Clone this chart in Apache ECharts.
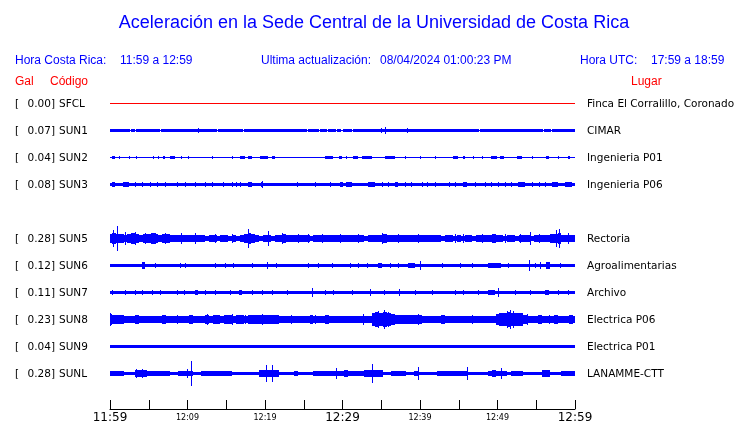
<!DOCTYPE html>
<html><head><meta charset="utf-8">
<script src="https://cdn.jsdelivr.net/npm/echarts@6.0.0/dist/echarts.min.js"></script>
<style>html,body{margin:0;padding:0;background:#fff}#c{width:740px;height:423px}</style>
</head><body><div id="c"></div>
<script>
// ---------- data ----------
const titleText = 'Aceleración en la Sede Central de la Universidad de Costa Rica';
const horaCR = '11:59 a 12:59';
const updated = '08/04/2024 01:00:23 PM';
const horaUTC = '17:59 a 18:59';
const timeLabels = ['11:59', '12:09', '12:19', '12:29', '12:39', '12:49', '12:59']; // every 10 min
const codes  = ['SFCL', 'SUN1', 'SUN2', 'SUN3', '', 'SUN5', 'SUN6', 'SUN7', 'SUN8', 'SUN9', 'SUNL'];
const places = ['Finca El Corralillo, Coronado', 'CIMAR', 'Ingenieria P01', 'Ingenieria P06', '',
                'Rectoria', 'Agroalimentarias', 'Archivo', 'Electrica P06', 'Electrica P01', 'LANAMME-CTT'];
const peakGal = [0.00, 0.07, 0.04, 0.08, null, 0.28, 0.12, 0.11, 0.23, 0.04, 0.28];
// quiet half-amplitude of each trace (Gal); null = trace described by a half-minute envelope
const baseGal = [0, 0.008, 0.008, 0.039, null, null, 0.039, 0.039, null, 0.027, null];
// half-minute envelopes (half-amplitude, Gal), t = 0, 0.5, ... 60 min
const sun5Env = [0.11,0.12,0.10,0.11,0.09,0.10,0.12,0.10,0.09,0.11,0.10,0.12,0.10,0.09,0.11,0.10,0.09,
  0.08,0.085,0.075,0.09,0.08,0.075,0.085,
  0.07,0.065,0.075,0.07,0.06,0.07,0.075,0.065,0.07,0.06,0.07,
  0.10,0.12,0.10,
  0.07,0.065,0.075,0.07,0.065,0.07,
  0.09,0.095,0.085,
  0.075,0.07,0.08,0.07,0.075,0.065,0.075,0.08,0.07,0.075,0.07,0.08,
  0.085,0.09,0.08,0.085,
  0.075,0.07,0.075,0.065,0.075,0.07,0.08,
  0.09,0.095,0.085,
  0.075,0.07,0.08,0.075,0.07,0.075,0.08,0.07,0.075,0.07,0.08,0.075,
  0.07,0.065,0.07,0.075,0.065,0.07,0.065,0.075,0.07,0.065,0.07,0.075,0.07,
  0.09,0.095,0.085,
  0.07,0.065,0.075,0.07,0.065,0.07,0.075,0.07,0.065,0.07,0.075,0.07,0.08,
  0.10,0.11,0.12,0.09,
  0.08,0.085,0.08];
const sun8Env = [0.12,0.11,0.10,0.11,
  0.08,0.085,
  0.09,0.095,0.09,0.085,
  0.08,0.075,0.08,
  0.09,0.095,0.09,0.085,
  0.08,0.085,0.08,
  0.09,0.095,0.09,0.085,0.09,
  0.095,0.09,0.10,0.095,0.09,0.10,0.095,0.09,0.10,0.095,0.09,0.10,0.095,0.105,
  0.11,0.115,0.11,0.105,0.11,
  0.08,0.085,0.08,0.09,0.08,0.085,
  0.09,0.085,0.095,0.09,0.085,0.09,0.095,0.09,0.085,
  0.085,0.08,0.09,0.085,0.08,0.09,0.085,
  0.08,0.085,
  0.15,0.17,0.16,0.17,0.15,
  0.12,0.11,0.105,0.11,0.10,0.11,0.105,0.10,
  0.08,0.085,0.08,0.085,
  0.09,0.095,0.09,0.085,0.09,
  0.08,0.085,0.08,0.085,0.08,0.085,0.08,0.085,0.08,0.085,
  0.13,0.15,0.16,0.17,0.16,0.15,0.14,
  0.095,0.09,0.085,0.09,0.095,0.09,0.085,0.09,0.095,0.09,0.085,0.09,0.095,0.09];
const sunLEnv = [0.05,0.055,0.05,0.05,
  0.04,0.045,0.04,
  0.07,0.075,0.07,
  0.06,0.065,0.06,0.055,0.065,0.06,
  0.045,0.04,
  0.06,0.065,0.06,
  0.05,0.04,0.045,
  0.06,0.065,0.06,
  0.055,0.06,0.055,0.05,0.055,
  0.04,0.045,0.04,0.045,0.04,0.045,0.04,
  0.08,0.085,0.08,0.075,0.08,
  0.045,0.04,0.045,0.04,0.05,0.04,0.045,0.04,0.045,
  0.06,0.065,0.06,0.055,0.06,0.065,
  0.065,0.06,0.07,0.065,0.06,0.065,0.06,
  0.075,0.08,0.075,0.07,0.075,
  0.045,0.04,
  0.055,0.06,0.055,0.05,
  0.045,0.04,0.05,0.045,0.04,0.045,0.04,0.045,
  0.055,0.06,0.055,0.05,0.06,0.055,0.05,0.06,
  0.045,0.04,0.045,0.04,0.045,
  0.065,0.07,0.065,0.06,0.065,
  0.045,0.06,0.065,0.06,
  0.045,0.04,0.045,0.04,0.045,
  0.075,0.08,
  0.045,0.04,0.045,
  0.05,0.055,0.05,0.05];
// marks: [startMinute, endMinute, halfAmplitudeGal]  (start == end -> single spike)
const sfclMarks = [];
const sun1Marks = [[0,2.55,0.03],[2.7,3.25,0.03],[3.4,6.45,0.03],[6.6,13.75,0.03],[13.9,17.15,0.03],[17.3,25.45,0.03],[25.6,26.95,0.03],[27.1,27.95,0.03],[28.1,29.15,0.03],[29.3,29.85,0.03],[30.0,31.25,0.03],[31.4,47.65,0.03],[47.8,55.85,0.03],[56.0,56.85,0.03],[57.0,60,0.03],
  [1.1,1.1,0.04],[4.5,4.5,0.045],[8.6,8.6,0.04],[11.4,11.4,0.055],[14.8,14.8,0.04],[19.6,19.6,0.04],[21.7,21.7,0.04],[35.0,35.0,0.06],[35.5,35.5,0.07],[38.3,38.3,0.055],[41.5,41.5,0.04],[44.5,44.5,0.04],[50.1,50.1,0.045],[58.7,58.7,0.045]];
const sun2Marks = [[0.2,0.6,0.03],[1.1,1.3,0.025],[2.4,2.6,0.03],[3.4,3.5,0.025],[5.6,5.6,0.025],[6.2,6.2,0.025],[6.9,7.1,0.025],[7.7,8.4,0.03],[9.2,9.2,0.025],[10.1,10.1,0.025],[13.1,13.1,0.025],[15.7,15.9,0.03],[16.8,17.4,0.03],[17.8,18.3,0.03],[19.4,20.4,0.03],[19.6,19.7,0.04],[20.9,21.3,0.03],[27.7,28.8,0.03],[29.5,29.9,0.03],[30.5,30.5,0.025],[31.4,32.0,0.03],[32.5,33.8,0.03],[35.5,36.8,0.03],[36.0,36.1,0.035],[38.1,38.1,0.025],[40.0,40.0,0.025],[41.9,41.9,0.025],[44.3,44.9,0.03],[45.6,45.8,0.03],[46.9,46.9,0.025],[48.0,48.0,0.025],[49.2,49.9,0.03],[50.3,50.8,0.03],[52.5,53.1,0.03],[54.4,54.4,0.025],[56.3,56.6,0.03],[57.8,57.8,0.025],[59.1,59.4,0.03]];
const sun3Marks = [[0.2,0.6,0.06],[1.7,2.4,0.06],[3.2,3.2,0.055],[4.1,4.1,0.055],[5.2,5.2,0.055],[6.0,6.0,0.055],[7.1,7.1,0.055],[8.6,8.6,0.055],[9.7,9.7,0.055],[11.0,11.0,0.055],[12.3,12.3,0.055],[13.1,13.1,0.055],[14.6,14.6,0.055],[15.7,15.7,0.055],[16.3,16.3,0.055],[16.8,16.8,0.055],[17.8,18.3,0.055],[19.5,19.7,0.065],[19.6,19.6,0.08],[24.1,24.1,0.055],[26.5,26.5,0.055],[28.4,28.4,0.055],[29.7,30.1,0.055],[30.5,31.2,0.055],[33.3,34.2,0.055],[35.1,35.1,0.055],[35.9,35.9,0.055],[36.8,37.2,0.055],[38.1,38.1,0.055],[38.9,38.9,0.055],[40.2,40.2,0.055],[40.9,40.9,0.055],[41.9,41.9,0.055],[43.7,43.7,0.055],[44.5,44.5,0.055],[45.6,46.0,0.055],[47.1,47.1,0.055],[48.4,48.4,0.055],[49.2,49.2,0.055],[50.1,50.1,0.055],[51.0,51.0,0.055],[51.8,51.8,0.055],[52.7,53.5,0.055],[54.4,54.4,0.055],[55.3,55.3,0.055],[56.1,56.1,0.055],[57.0,57.8,0.055],[58.7,59.6,0.055]];
const sun5Marks = [[0.4,0.4,0.2],[0.9,0.9,0.28],[1.9,1.9,0.14],[3.2,3.2,0.14],[4.5,4.5,0.13],[5.8,5.8,0.13],[7.1,7.1,0.13],[9.2,9.2,0.12],[11.0,11.0,0.12],[13.5,13.5,0.1],[15.7,15.7,0.1],[17.8,17.8,0.22],[20.4,20.4,0.17],[22.2,22.2,0.12],[24.3,24.3,0.1],[25.6,25.6,0.11],[27.3,27.3,0.1],[29.7,29.7,0.11],[32.0,32.0,0.1],[35.1,35.1,0.13],[37.2,37.2,0.1],[39.8,39.8,0.11],[44.5,44.5,0.1],[45.6,45.6,0.1],[48.0,48.0,0.1],[51.0,51.0,0.1],[52.9,52.9,0.11],[54.2,54.2,0.16],[55.3,55.3,0.1],[57.6,57.6,0.2],[57.9,57.9,0.21],[59.1,59.1,0.12]];
const sun6Marks = [[4.1,4.5,0.07],[5.8,5.8,0.06],[9.0,9.0,0.06],[9.7,9.7,0.06],[13.5,13.5,0.06],[14.8,14.8,0.06],[15.9,15.9,0.06],[18.3,18.3,0.06],[20.2,20.2,0.08],[21.4,21.4,0.06],[25.6,25.6,0.06],[26.9,26.9,0.06],[28.6,28.6,0.06],[31.0,31.0,0.06],[32.0,32.0,0.06],[33.1,33.1,0.065],[34.6,35.1,0.065],[36.1,36.1,0.06],[37.2,37.2,0.06],[38.5,39.4,0.06],[40.0,40.0,0.1],[42.8,42.8,0.06],[45.2,45.2,0.06],[46.7,46.7,0.06],[48.8,50.5,0.055],[49.6,49.6,0.065],[51.4,51.4,0.06],[54.1,54.1,0.12],[54.8,54.8,0.06],[55.5,55.5,0.08],[56.3,56.8,0.08],[58.1,58.1,0.06]];
const sun7Marks = [[0.2,0.2,0.055],[1.9,1.9,0.055],[3.2,3.2,0.055],[4.1,4.1,0.055],[5.4,5.4,0.055],[6.5,6.5,0.055],[8.6,8.8,0.065],[9.6,9.6,0.055],[11.0,11.4,0.05],[12.3,12.3,0.055],[13.5,13.5,0.055],[15.5,15.5,0.055],[16.6,17.0,0.05],[18.3,18.3,0.055],[19.6,19.6,0.055],[20.9,20.9,0.055],[22.8,22.8,0.055],[26.1,26.1,0.11],[27.7,27.7,0.055],[28.8,28.8,0.055],[31.2,31.2,0.055],[33.5,33.5,0.07],[35.3,35.3,0.055],[37.3,37.3,0.075],[39.4,39.4,0.055],[41.5,41.5,0.055],[44.5,44.5,0.055],[45.6,45.6,0.055],[47.5,47.5,0.055],[48.8,49.7,0.05],[50.1,50.1,0.1],[52.3,52.3,0.055],[54.2,54.2,0.055],[56.1,56.6,0.055],[57.8,57.8,0.055],[59.1,59.1,0.055]];
const sun8Marks = [[0.0,0.0,0.16],[8.6,8.6,0.1],[10.3,10.3,0.11],[12.5,12.5,0.12],[15.7,15.7,0.12],[17.4,17.4,0.11],[19.6,19.6,0.13],[23.4,23.4,0.1],[26.5,26.5,0.11],[32.7,32.7,0.12],[34.6,34.6,0.2],[35.3,35.3,0.23],[35.9,35.9,0.17],[39.8,39.8,0.12],[46.7,46.7,0.1],[51.2,51.2,0.2],[51.6,51.6,0.22],[52.0,52.0,0.2],[53.1,53.1,0.15],[53.8,53.8,0.13],[56.6,56.6,0.11],[59.4,59.4,0.11]];
const sun9Marks = [[19.6,19.7,0.04],[24.3,24.3,0.032],[29.5,29.5,0.035],[52.7,52.7,0.032]];
const sunLMarks = [[3.4,3.4,0.1],[4.1,4.1,0.11],[9.9,9.9,0.1],[10.5,10.5,0.28],[20.1,20.1,0.2],[20.9,20.9,0.2],[29.2,29.2,0.13],[33.8,33.8,0.21],[39.8,39.8,0.14],[46.0,46.0,0.14],[50.5,50.5,0.13],[56.6,56.6,0.09]];
const envs  = [null, null, null, null, null, sun5Env, null, null, sun8Env, null, sunLEnv];
const marks = [sfclMarks, sun1Marks, sun2Marks, sun3Marks, null, sun5Marks, sun6Marks, sun7Marks, sun8Marks, sun9Marks, sunLMarks];

// ---------- layout ----------
const GAL_PX = 43, ROW_H = 27, ROW0 = 103.5, LEFT = 110, WIDTH = 465;
const BLUE = '#0000ff', RED = '#ff0000';
const labFont = '10.5px "DejaVu Sans"';
const hdrFont = '12px "Liberation Sans", Arial';
const ENV_STEP = 0.5;

function makeRender(color) {
  return function (params, api) {
    const t0 = api.value(0), t1 = api.value(1), a = api.value(2);
    const pa = api.coord([t0, a]), pb = api.coord([t1, -a]);
    let x0 = Math.round(pa[0]), x1 = Math.round(pb[0]);
    if (x1 - x0 < 1) x1 = x0 + 1;
    let y0 = Math.round(pa[1]), y1 = Math.round(pb[1]);
    if (y1 - y0 < 1) { y0 = Math.floor((pa[1] + pb[1]) / 2); y1 = y0 + 1; }
    return { type: 'rect', shape: { x: x0, y: y0, width: x1 - x0, height: y1 - y0 }, style: { fill: color } };
  };
}

const grids = [], xAxes = [], yAxes = [], series = [], gfx = [];
codes.forEach((code, i) => {
  if (!code) return;
  const cy = ROW0 + ROW_H * i;
  const gi = grids.length;
  const half = ROW_H / 2 / GAL_PX;
  grids.push({ left: LEFT, width: WIDTH, top: cy - ROW_H / 2, height: ROW_H, containLabel: false, outerBoundsMode: 'none' });
  xAxes.push({ gridIndex: gi, type: 'value', min: 0, max: 60, show: false });
  yAxes.push({ gridIndex: gi, type: 'value', min: -half, max: half, show: false });
  let data = [];
  if (envs[i]) {
    data = envs[i].map((a, k) => [Math.max(0, k * ENV_STEP - ENV_STEP / 2), Math.min(60, k * ENV_STEP + ENV_STEP / 2), a]);
  } else {
    data = [[0, 60, baseGal[i]]];
  }
  data = data.concat(marks[i]);
  series.push({
    type: 'custom', xAxisIndex: gi, yAxisIndex: gi, silent: true, animation: false, clip: false,
    encode: { x: [0, 1], y: 2 },
    data: data,
    renderItem: makeRender(i === 0 ? RED : BLUE)
  });
  const ty = Math.floor(cy) + 1.5;
  gfx.push({ type: 'text', x: 15, y: ty, style: { text: '[', font: labFont, fill: '#000', textVerticalAlign: 'middle' } });
  gfx.push({ type: 'text', x: 55, y: ty, style: { text: peakGal[i].toFixed(2) + ']', font: labFont, fill: '#000', textAlign: 'right', textVerticalAlign: 'middle' } });
  gfx.push({ type: 'text', x: 59, y: ty, style: { text: code, font: labFont, fill: '#000', textVerticalAlign: 'middle' } });
  gfx.push({ type: 'text', x: 587, y: ty, style: { text: places[i], font: labFont, fill: '#000', textVerticalAlign: 'middle' } });
});

// time axis grid
const ag = grids.length;
grids.push({ left: LEFT, width: WIDTH, top: 400, height: 9, containLabel: false, outerBoundsMode: 'none' });
xAxes.push({
  gridIndex: ag, type: 'value', min: 0, max: 60, interval: 5,
  axisLine: { show: true, onZero: false, lineStyle: { color: '#000', width: 1 } },
  axisTick: { show: true, inside: true, length: 9, lineStyle: { color: '#000', width: 1 } },
  splitLine: { show: false },
  axisLabel: {
    show: true, margin: 2, showMinLabel: true, showMaxLabel: true, hideOverlap: false,
    formatter: function (v) {
      if (v % 10 !== 0) return '';
      const lab = timeLabels[v / 10];
      return v % 30 === 0 ? '{b|' + lab + '}' : '{s|' + lab + '}';
    },
    rich: {
      b: { fontSize: 12, fontFamily: 'DejaVu Sans', color: '#000', lineHeight: 14 },
      s: { fontSize: 8, fontFamily: 'DejaVu Sans', color: '#000', lineHeight: 14 }
    }
  }
});
yAxes.push({ gridIndex: ag, type: 'value', show: false, min: 0, max: 1 });

// header texts
gfx.push({ type: 'text', x: 374, y: 23.5, style: { text: titleText, font: '18px "Liberation Sans", Arial', fill: BLUE, textAlign: 'center', textVerticalAlign: 'middle' } });
const hy = 61, ry = 81.5;
[[15, 'Hora Costa Rica:'], [120, horaCR], [261, 'Ultima actualización:'], [380, updated], [580, 'Hora UTC:'], [651, horaUTC]].forEach(p => {
  gfx.push({ type: 'text', x: p[0], y: hy, style: { text: p[1], font: hdrFont, fill: BLUE, textVerticalAlign: 'middle' } });
});
[[15, 'Gal'], [50, 'Código'], [631, 'Lugar']].forEach(p => {
  gfx.push({ type: 'text', x: p[0], y: ry, style: { text: p[1], font: hdrFont, fill: RED, textVerticalAlign: 'middle' } });
});

const chart = echarts.init(document.getElementById('c'), null, { renderer: 'canvas' });
chart.setOption({
  animation: false,
  backgroundColor: '#ffffff',
  grid: grids, xAxis: xAxes, yAxis: yAxes, series: series,
  graphic: { elements: gfx }
});
</script>
</body></html>
